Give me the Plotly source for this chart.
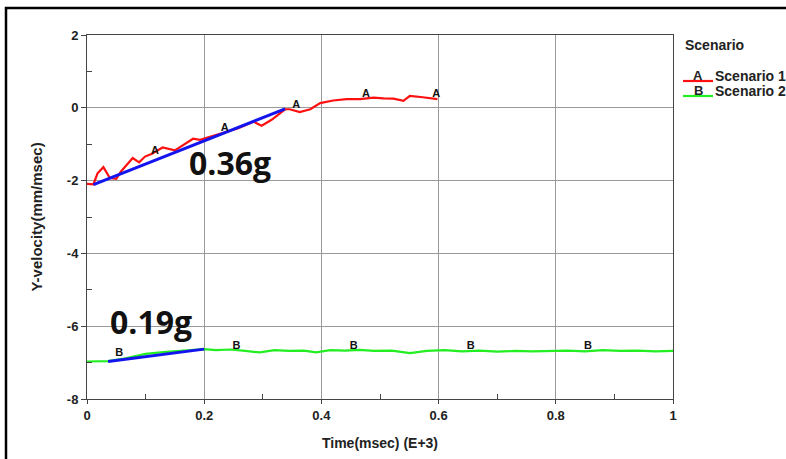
import plotly.graph_objects as go

# Scenario 1 (red)
red_x = [0, 0.011, 0.018, 0.028, 0.039, 0.050, 0.058, 0.078, 0.089, 0.099, 0.110, 0.129, 0.150, 0.165,
         0.181, 0.193, 0.210, 0.227, 0.258, 0.284, 0.298, 0.315, 0.338, 0.346, 0.363, 0.381, 0.398, 0.420,
         0.443, 0.466, 0.489, 0.506, 0.523, 0.540, 0.551, 0.573, 0.598]
red_y = [-2.09, -2.10, -1.80, -1.63, -1.93, -1.95, -1.75, -1.38, -1.50, -1.34, -1.27, -1.09, -1.17, -1.02,
         -0.85, -0.88, -0.80, -0.70, -0.56, -0.38, -0.49, -0.33, -0.04, -0.04, -0.12, -0.04, 0.13, 0.20,
         0.24, 0.24, 0.28, 0.26, 0.25, 0.19, 0.33, 0.29, 0.24]

# Scenario 2 (green)
green_x = [0, 0.02, 0.036, 0.06, 0.08, 0.1, 0.13, 0.16, 0.2, 0.22, 0.245, 0.27, 0.295, 0.32, 0.345, 0.37,
           0.391, 0.415, 0.44, 0.465, 0.49, 0.52, 0.551, 0.58, 0.61, 0.64, 0.67, 0.7, 0.73, 0.76, 0.79,
           0.82, 0.85, 0.88, 0.91, 0.94, 0.97, 1.0]
green_y = [-6.97, -6.97, -6.96, -6.90, -6.84, -6.76, -6.71, -6.68, -6.63, -6.66, -6.64, -6.68, -6.72, -6.66,
           -6.68, -6.67, -6.72, -6.66, -6.67, -6.65, -6.68, -6.67, -6.74, -6.68, -6.66, -6.69, -6.67, -6.70,
           -6.68, -6.69, -6.68, -6.67, -6.69, -6.66, -6.68, -6.67, -6.69, -6.68]

# Fitted slope lines (blue)
fit1_x = [0.011, 0.338]
fit1_y = [-2.11, -0.03]
fit2_x = [0.036, 0.2]
fit2_y = [-6.97, -6.63]

# Curve letter labels
labA_x = [0.116, 0.235, 0.357, 0.476, 0.596]
labA_y = [-1.20, -0.55, 0.06, 0.38, 0.38]
labB_x = [0.055, 0.255, 0.455, 0.655, 0.855]
labB_y = [-6.74, -6.56, -6.56, -6.56, -6.56]

# Slope annotations
slope_text = ["0.36g", "0.19g"]
slope_x = [0.244, 0.109]
slope_y = [-1.51, -5.88]

x_ticks = [0, 0.2, 0.4, 0.6, 0.8, 1.0]
x_tick_labels = ["0", "0.2", "0.4", "0.6", "0.8", "1"]
y_ticks = [-8, -6, -4, -2, 0, 2]

W, H = 786, 459
L, R, T, B = 87, 113, 35, 60
pw, ph = W - L - R, H - T - B

def px(x):
    return (x - L) / pw

def py(y):
    return (H - B - y) / ph

ARIAL = "Arial, Liberation Sans"

fig = go.Figure()
fig.add_trace(go.Scatter(x=red_x, y=red_y, mode="lines", line=dict(color="#ff1010", width=2.2), showlegend=False))
fig.add_trace(go.Scatter(x=green_x, y=green_y, mode="lines", line=dict(color="#22ee22", width=2.2), showlegend=False))
fig.add_trace(go.Scatter(x=fit1_x, y=fit1_y, mode="lines", line=dict(color="#1414ee", width=3), showlegend=False))
fig.add_trace(go.Scatter(x=fit2_x, y=fit2_y, mode="lines", line=dict(color="#1414ee", width=3), showlegend=False))
lab_font = dict(family=ARIAL, size=11, color="#111")
fig.add_trace(go.Scatter(x=labA_x, y=labA_y, mode="text", text=["<b>A</b>"] * len(labA_x),
                         textfont=lab_font, showlegend=False))
fig.add_trace(go.Scatter(x=labB_x, y=labB_y, mode="text", text=["<b>B</b>"] * len(labB_x),
                         textfont=lab_font, showlegend=False))

for t, x, y in zip(slope_text, slope_x, slope_y):
    fig.add_annotation(x=x, y=y, text="<b>%s</b>" % t, showarrow=False,
                       font=dict(family="Open Sans, Noto Sans", size=32, color="#111"))

# Outer frame
fig.add_shape(type="rect", xref="paper", yref="paper", x0=px(6), x1=px(900), y0=py(8), y1=py(600),
              line=dict(color="#000", width=2.5), layer="above")

# Legend (manual)
fig.add_annotation(xref="paper", yref="paper", x=px(683), y=py(45), xanchor="left", yanchor="middle",
                   text="<b>Scenario</b>", showarrow=False,
                   font=dict(family=ARIAL, size=14, color="#222"))
leg = [("A", "Scenario 1", "#ff1010", 76), ("B", "Scenario 2", "#22ee22", 91)]
for letter, name, col, yy in leg:
    fig.add_shape(type="line", xref="paper", yref="paper", x0=px(683), x1=px(713), y0=py(yy + 5), y1=py(yy + 5),
                  line=dict(color=col, width=2.2))
    fig.add_annotation(xref="paper", yref="paper", x=px(698), y=py(yy - 1), xanchor="center", yanchor="middle",
                       text="<b>%s</b>" % letter, showarrow=False,
                       font=dict(family=ARIAL, size=13, color="#222"))
    fig.add_annotation(xref="paper", yref="paper", x=px(713), y=py(yy), xanchor="left", yanchor="middle",
                       text="<b>%s</b>" % name, showarrow=False,
                       font=dict(family=ARIAL, size=14, color="#222"))

axfont = dict(family=ARIAL, size=13, color="#222")
fig.update_layout(
    width=W, height=H, margin=dict(l=L, r=R, t=T, b=B),
    paper_bgcolor="white", plot_bgcolor="white",
    xaxis=dict(range=[0, 1], tickvals=x_ticks, ticktext=["<b>%s</b>" % s for s in x_tick_labels],
               tickfont=axfont, showgrid=True, gridcolor="#999", gridwidth=1,
               showline=True, linecolor="#444", linewidth=1, mirror=True,
               ticks="outside", ticklen=4, tickcolor="#444", zeroline=False,
               minor=dict(tickvals=[0.1, 0.3, 0.5, 0.7, 0.9], ticks="inside", ticklen=5, tickcolor="#444", showgrid=False),
               title=dict(text="<b>Time(msec) (E+3)</b>", font=dict(family=ARIAL, size=14, color="#222"),
                          standoff=16)),
    yaxis=dict(range=[-8, 2], tickvals=y_ticks, ticktext=["<b>%d</b>" % v for v in y_ticks],
               tickfont=axfont, showgrid=True, gridcolor="#999", gridwidth=1,
               showline=True, linecolor="#444", linewidth=1, mirror=True,
               ticks="outside", ticklen=5, tickcolor="#444", zeroline=False,
               minor=dict(tickvals=[-7, -5, -3, -1, 1], ticks="inside", ticklen=5, tickcolor="#444", showgrid=False),
               title=dict(text="<b>Y-velocity(mm/msec)</b>", font=dict(family=ARIAL, size=15, color="#222"),
                          standoff=20)),
)

fig.write_html("out.html")
